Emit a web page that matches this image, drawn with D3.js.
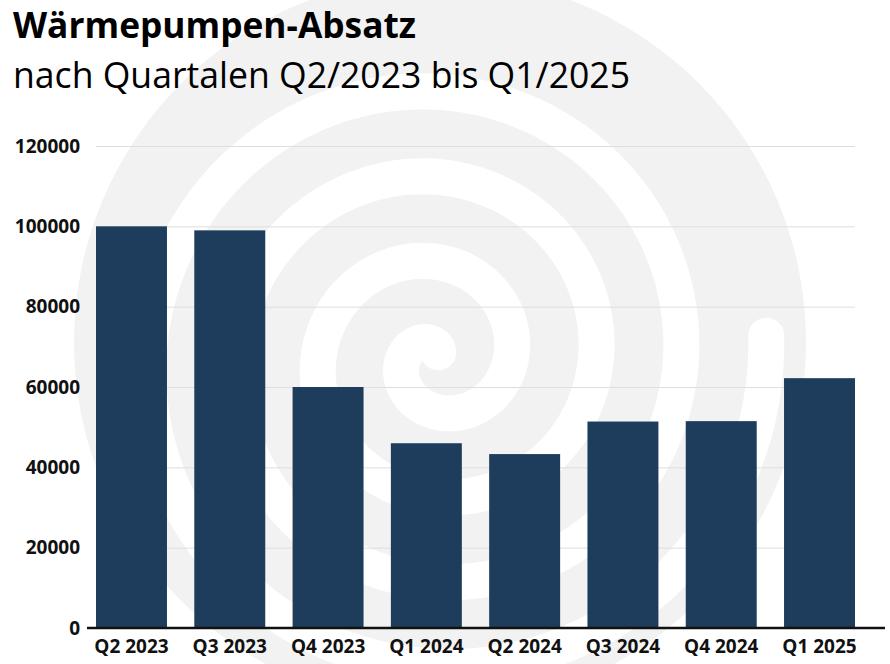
<!DOCTYPE html>
<html>
<head>
  <meta charset='utf-8'>
  <script src='https://cdn.jsdelivr.net/npm/d3@7'></script>
  <style>
    body { margin: 0; background: #fff; }
    svg { display: block; font-family: 'Open Sans', 'Noto Sans', sans-serif; }
  </style>
</head>
<body>
<script>
  // data
  var quarters = ['Q2 2023', 'Q3 2023', 'Q4 2023', 'Q1 2024', 'Q2 2024', 'Q3 2024', 'Q4 2024', 'Q1 2025'];
  var sales = [100000, 99000, 60000, 46000, 43300, 51400, 51500, 62200];
  var yTicks = [0, 20000, 40000, 60000, 80000, 100000, 120000];
  var title = 'Wärmepumpen-Absatz';
  var subtitle = 'nach Quartalen Q2/2023 bis Q1/2025';

  var W = 890, H = 664;
  var plotLeft = 96, plotRight = 855, plotTop = 146, plotBottom = 628;

  var svg = d3.select('body').append('svg')
    .attr('width', W)
    .attr('height', H);

  svg.append('rect').attr('width', W).attr('height', H).attr('fill', '#fff');

  // faint spiral watermark in the background
  var wm = svg.append('g').attr('class', 'watermark');
  wm.append('circle')
    .attr('cx', 440).attr('cy', 342).attr('r', 366)
    .attr('fill', '#f2f2f2');
  var scx = 436, scy = 358, pitch = 85, a0 = -10;
  var pts = d3.range(1.2, 8 * Math.PI + 0.08, 0.05).map(function(t) {
    var r = a0 + pitch / (2 * Math.PI) * t;
    return [scx + r * Math.cos(t), scy - r * Math.sin(t)];
  });
  wm.append('path')
    .attr('d', d3.line()(pts))
    .attr('fill', 'none')
    .attr('stroke', '#fff')
    .attr('stroke-width', 36)
    .attr('stroke-linecap', 'round');

  // titles
  svg.append('text')
    .attr('x', 13).attr('y', 38)
    .style('font-size', '35.3px').style('font-weight', 700)
    .attr('fill', '#000')
    .text(title);
  svg.append('text')
    .attr('x', 13).attr('y', 88)
    .style('font-size', '35.6px').style('font-weight', 400)
    .attr('fill', '#000')
    .text(subtitle);

  var x = d3.scaleBand()
    .domain(quarters)
    .range([plotLeft, plotRight])
    .paddingInner(0.278)
    .paddingOuter(0);

  var y = d3.scaleLinear()
    .domain([0, 120000])
    .range([plotBottom, plotTop]);

  // y axis with gridlines
  var yAxis = svg.append('g')
    .attr('transform', 'translate(' + plotLeft + ',0)')
    .call(d3.axisLeft(y).tickValues(yTicks).tickSizeInner(-(plotRight - plotLeft)).tickSizeOuter(0).tickPadding(16).tickFormat(d3.format('d')));
  yAxis.select('.domain').remove();
  yAxis.selectAll('.tick line').attr('stroke', '#dedede').attr('stroke-width', 1);
  yAxis.selectAll('.tick text')
    .attr('fill', '#111')
    .style('font-size', '19px')
    .style('font-weight', 700)
    .style('font-family', "'Open Sans', sans-serif");

  // bars
  svg.append('g').selectAll('rect')
    .data(sales)
    .enter()
    .append('rect')
    .attr('x', function(d, i) { return x(quarters[i]); })
    .attr('y', function(d) { return y(d); })
    .attr('width', x.bandwidth())
    .attr('height', function(d) { return y(0) - y(d); })
    .attr('fill', '#1e3d5c');

  // x axis
  var xAxis = svg.append('g')
    .attr('transform', 'translate(0,' + plotBottom + ')')
    .call(d3.axisBottom(x).tickSize(0));
  xAxis.select('.domain').remove();
  xAxis.selectAll('.tick text')
    .attr('y', 25).attr('dy', 0)
    .attr('fill', '#111')
    .style('font-size', '19px')
    .style('font-weight', 700)
    .style('font-family', "'Open Sans', sans-serif");

  svg.append('line')
    .attr('x1', 87).attr('x2', 885)
    .attr('y1', y(0)).attr('y2', y(0))
    .attr('stroke', '#111')
    .attr('stroke-width', 2.5);
</script>
</body>
</html>
